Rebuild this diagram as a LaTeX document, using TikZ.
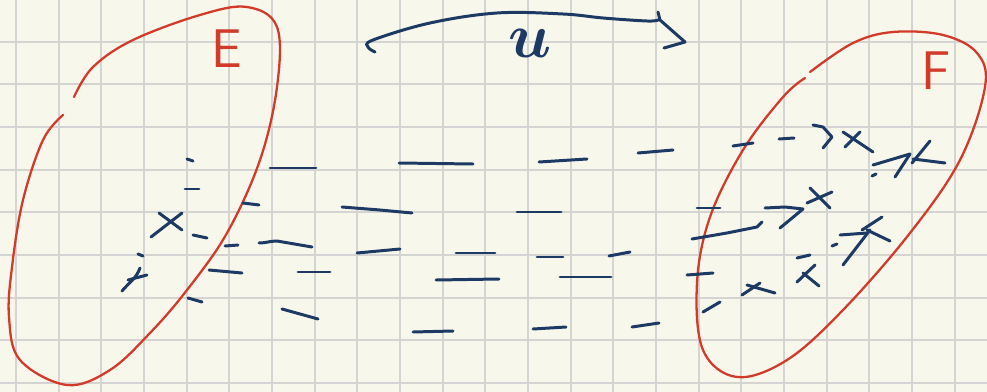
\documentclass[tikz,border=0pt]{standalone}
\usepackage{xcolor}
\usepackage{tikz}
\definecolor{paper}{HTML}{F8F7EC}
\definecolor{gridgray}{HTML}{D4D4D2}
\definecolor{pen}{HTML}{1C3A63}
\definecolor{redpen}{HTML}{D23B2A}

\begin{document}
\begin{tikzpicture}[
  x=0.02cm, y=-0.02cm,
  gridline/.style={gridgray, line width=1.1pt},
  ink/.style={pen, line width=1.7pt, line cap=round, line join=round},
  redink/.style={redpen, line width=1.3pt, line cap=round, line join=round},
  setname/.style={redpen, font=\sffamily\fontsize{31}{33}\selectfont},
  mapfont/.style={pen, font=\Huge\boldmath, scale=1.45, inner sep=0pt}
]
\fill[paper] (0,0) rectangle (987,392);
\useasboundingbox (0,0) rectangle (987,392);

% graph paper
\foreach \i in {0,...,22}
  \draw[gridline] ({16+42.67*\i},0) -- ++(0,392);
\foreach \j in {0,...,8}
  \draw[gridline] (0,{41.7+42.67*\j}) -- ++(987,0);

% the two sets
\draw[redink] plot[smooth, tension=0.6] coordinates {(63,115) (43,140) (23,200) (12,267) (9,317) (20,360) (67,385) (110,370) (150,333) (187,290) (227,233) (260,160) (277,87) (277,27) (247,7) (200,15) (133,40) (93,67) (74,97)};
\draw[redink] plot[smooth, tension=0.6] coordinates {(805,78) (783,97) (743,150) (710,217) (697,283) (703,350) (737,377) (787,360) (843,310) (910,233) (960,160) (985,87) (977,53) (943,35) (893,32) (853,43) (810,72)};
\node[setname] (nameE) at (227,49) {E};
\node[setname] (nameF) at (936,71) {F};

% the map
\draw[ink] plot[smooth, tension=0.6] coordinates {(375,52) (368,47) (373,40) (430,23) (497,13) (563,14) (603,18) (647,21) (658,20)};
\draw[ink] (658,12) -- (660,20) -- (685,42) -- (664,48);
\node[mapfont] (mapname) at (530,43) {$u$};

% dashed paths
\foreach \a/\b in {
  {(187,159)}/{(193,161)}, {(185,189)}/{(199,189)}, {(243,203)}/{(259,205)},
  {(270,168)}/{(316,168)}, {(193,235)}/{(207,238)}, {(225,246)}/{(238,245)},
  {(138,254)}/{(143,256)}, {(209,270)}/{(242,273)}, {(298,272)}/{(330,272)},
  {(188,298)}/{(202,302)}, {(282,309)}/{(318,319)}, {(399,163)}/{(473,164)},
  {(539,162)}/{(587,159)}, {(638,153)}/{(673,150)}, {(517,212)}/{(561,212)},
  {(357,253)}/{(400,249)}, {(456,253)}/{(495,253)}, {(537,257)}/{(563,257)},
  {(609,256)}/{(630,252)}, {(436,280)}/{(499,279)}, {(560,277)}/{(611,277)},
  {(413,332)}/{(453,331)}, {(533,329)}/{(566,327)}, {(632,327)}/{(659,323)},
  {(733,146)}/{(753,143)}, {(779,139)}/{(794,138)}, {(697,208)}/{(720,208)},
  {(687,275)}/{(713,273)}, {(797,258)}/{(810,255)}, {(703,312)}/{(720,302)},
  {(872,176)}/{(876,174)}, {(832,246)}/{(837,244)}}
  \draw[ink] \a -- \b;
\draw[ink] (259,243) to[out=0,in=180] (277,241) -- (312,247);
\draw[ink] (342,207) -- (380,210) -- (412,213);

% points of E
\draw[ink] (159,213) -- (182,230);
\draw[ink] (182,213) -- (151,237);
\draw[ink] (122,291) to[out=50,in=250] (140,268);
\draw[ink] (128,280) -- (147,275);

% arrow heads and images in F
\draw[ink] (813,125) -- (823,127) -- (832,137) -- (823,148);
\draw[ink] (843,132) -- (873,152);
\draw[ink] (860,132) -- (845,147);
\draw[ink] (873,165) -- (910,154);
\draw[ink] (895,177) -- (910,154);
\draw[ink] (930,141) -- (912,163);
\draw[ink] (913,159) -- (945,163);
\draw[ink] (692,239) -- (727,233) -- (757,227) -- (762,222);
\draw[ink] (765,208) -- (785,207) -- (803,209) -- (780,228);
\draw[ink] (810,188) -- (830,208);
\draw[ink] (832,192) -- (807,203);
\draw[ink] (797,282) -- (815,265);
\draw[ink] (803,273) -- (819,286);
\draw[ink] (840,235) -- (867,233);
\draw[ink] (843,265) -- (870,230);
\draw[ink] (882,217) -- (862,230);
\draw[ink] (867,230) -- (890,241);
\draw[ink] (742,295) -- (760,283);
\draw[ink] (747,285) -- (775,293);
\end{tikzpicture}
\end{document}
